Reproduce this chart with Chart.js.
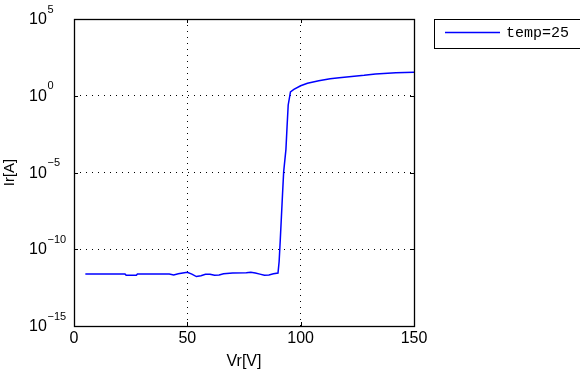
<!DOCTYPE html>
<html><head><meta charset="utf-8">
<script src="https://cdn.jsdelivr.net/npm/chart.js@4.4.0/dist/chart.umd.min.js"></script>
<style>html,body{margin:0;padding:0;background:#fff}#wrap{width:580px;height:377px}</style>
</head><body><div id="wrap"><canvas id="c" width="580" height="377"></canvas></div>
<script>
const voltages = [5, 22.5, 23, 27.5, 28, 42, 44, 46, 48, 50, 52, 54, 56, 58, 60, 62, 64, 66, 70, 76, 78, 80, 82, 84, 86, 88, 90, 90.5, 91, 91.5, 92, 92.5, 93.5, 94, 94.5, 95.5, 97, 100, 103, 108, 113, 117, 128, 133, 142, 150];
const currents = [2.45e-12, 2.45e-12, 2.0e-12, 2.0e-12, 2.45e-12, 2.45e-12, 2.1e-12, 2.5e-12, 2.8e-12, 3.16e-12, 2.4e-12, 1.66e-12, 1.9e-12, 2.35e-12, 2.35e-12, 2.0e-12, 2.1e-12, 2.5e-12, 2.8e-12, 2.95e-12, 3.16e-12, 2.8e-12, 2.4e-12, 2.0e-12, 2.1e-12, 2.5e-12, 2.8e-12, 1.6e-11, 4e-10, 1.26e-8, 4e-7, 1.1e-5, 3.2e-4, 1e-2, 0.25, 1.8, 2.6, 4.5, 6.5, 9.5, 12.9, 15, 21.4, 26.3, 31.6, 33.9];
const seriesLabel = 'temp=25';
const xTicks = [0, 50, 100, 150];
const yTickExponents = [-15, -10, -5, 0, 5];
const xTitle = 'Vr[V]';
const yTitle = 'Ir[A]';

const points = voltages.map((v, i) => ({x: v, y: currents[i]}));

const framePlugin = {
  id: 'frame',
  afterDraw(chart) {
    const {ctx, chartArea: a, scales: {x, y}} = chart;
    ctx.save();
    ctx.strokeStyle = '#000';
    ctx.lineWidth = 1;
    const seg = (x1, y1, x2, y2) => { ctx.beginPath(); ctx.moveTo(x1, y1); ctx.lineTo(x2, y2); ctx.stroke(); };
    xTicks.forEach(v => {
      const px = Math.round(x.getPixelForValue(v)) + 0.5;
      seg(px, a.bottom, px, a.bottom - 4);
      seg(px, a.top, px, a.top + 4);
    });
    yTickExponents.forEach(e => {
      const py = Math.round(y.getPixelForValue(Math.pow(10, e))) + 0.5;
      seg(a.left, py, a.left + 4, py);
      seg(a.right, py, a.right - 4, py);
    });
    ctx.lineWidth = 1.3;
    ctx.strokeRect(Math.round(a.left) + 0.5, Math.round(a.top) + 0.5, Math.round(a.right - a.left), Math.round(a.bottom - a.top));

    // y tick labels with superscript exponents
    ctx.fillStyle = '#000';
    yTickExponents.forEach(e => {
      const py = y.getPixelForValue(Math.pow(10, e));
      ctx.font = "16px 'Liberation Sans'";
      ctx.textAlign = 'left';
      ctx.textBaseline = 'alphabetic';
      ctx.fillText('10', 29, py + 5);
      ctx.font = "11px 'Liberation Sans'";
      ctx.fillText(e < 0 ? '\u2212' + Math.abs(e) : String(e), 47.5, py - 6.5);
    });

    // legend
    const ds = chart.data.datasets[0];
    ctx.lineWidth = 1;
    ctx.strokeStyle = '#000';
    ctx.strokeRect(434.5, 19.5, 150, 29);
    ctx.strokeStyle = ds.borderColor;
    ctx.lineWidth = 1.5;
    seg(445, 32.5, 500, 32.5);
    ctx.fillStyle = '#000';
    ctx.font = "15px 'Liberation Mono'";
    ctx.textBaseline = 'middle';
    ctx.fillText(ds.label, 506, 33.5);
    ctx.restore();
  }
};

new Chart(document.getElementById('c'), {
  type: 'line',
  data: {
    datasets: [{
      label: seriesLabel,
      data: points,
      borderColor: '#0000ff',
      borderWidth: 1.5,
      pointRadius: 0,
      tension: 0,
      fill: false
    }]
  },
  options: {
    responsive: false,
    animation: false,
    devicePixelRatio: 1,
    layout: {padding: {top: 19, right: 166, left: 0, bottom: 0}},
    plugins: {legend: {display: false}, tooltip: {enabled: false}},
    scales: {
      x: {
        type: 'linear',
        min: 0, max: 150,
        afterBuildTicks: s => { s.ticks = xTicks.map(v => ({value: v})); },
        afterFit: s => { s.height = 51; },
        ticks: {color: '#000', font: {family: 'Liberation Sans', size: 16}, padding: 3, maxRotation: 0},
        grid: {color: '#000', lineWidth: 1, drawTicks: false},
        border: {display: false, dash: [1, 5]},
        title: {display: true, text: xTitle, color: '#000', font: {family: 'Liberation Sans', size: 16}, padding: {top: 0, bottom: 6}}
      },
      y: {
        type: 'logarithmic',
        min: 1e-15, max: 1e5,
        afterBuildTicks: s => { s.ticks = yTickExponents.map(e => ({value: Math.pow(10, e)})); },
        afterFit: s => { s.width = 74; },
        ticks: {display: false},
        grid: {color: '#000', lineWidth: 1, drawTicks: false},
        border: {display: false, dash: [1, 5]},
        title: {display: true, text: yTitle, color: '#000', font: {family: 'Liberation Sans', size: 15}, padding: {top: 1, bottom: 0}}
      }
    }
  },
  plugins: [framePlugin]
});
</script>
</body></html>
